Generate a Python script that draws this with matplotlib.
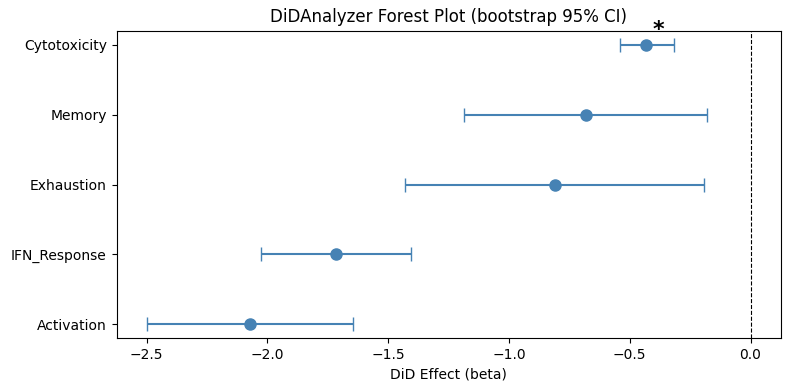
import matplotlib
matplotlib.use("Agg")
import matplotlib.pyplot as plt
import numpy as np

categories = ["Activation", "IFN_Response", "Exhaustion", "Memory", "Cytotoxicity"]
beta = [-2.071, -1.718, -0.811, -0.683, -0.433]
ci_low = [-2.500, -2.028, -1.432, -1.188, -0.540]
ci_high = [-1.647, -1.407, -0.194, -0.182, -0.318]
significant = [False, False, False, False, True]
star_x = [None, None, None, None, -0.38]

fig = plt.figure(figsize=(7.9, 3.9), dpi=100)
ax = fig.add_axes([116.5 / 790, 1 - 338.3 / 390, (780.7 - 116.5) / 790, (338.3 - 30.7) / 390])
y = np.arange(len(categories))
b = np.array(beta)
lo = b - np.array(ci_low)
hi = np.array(ci_high) - b
ax.errorbar(b, y, xerr=[lo, hi], fmt='o', color='steelblue', ecolor='steelblue',
            markersize=8, capsize=5, elinewidth=1.5)
ax.axvline(0, color='black', linestyle='--', linewidth=0.8)
for i, s in enumerate(significant):
    if s:
        ax.text(star_x[i], y[i] + 0.07, '*', ha='center', va='bottom',
                fontsize=16, fontweight='bold', clip_on=False)
ax.set_yticks(y)
ax.set_yticklabels(categories)
ax.set_xlabel("DiD Effect (beta)")
ax.set_title("DiDAnalyzer Forest Plot (bootstrap 95% CI)")
fig.savefig("out.png", dpi=100)
